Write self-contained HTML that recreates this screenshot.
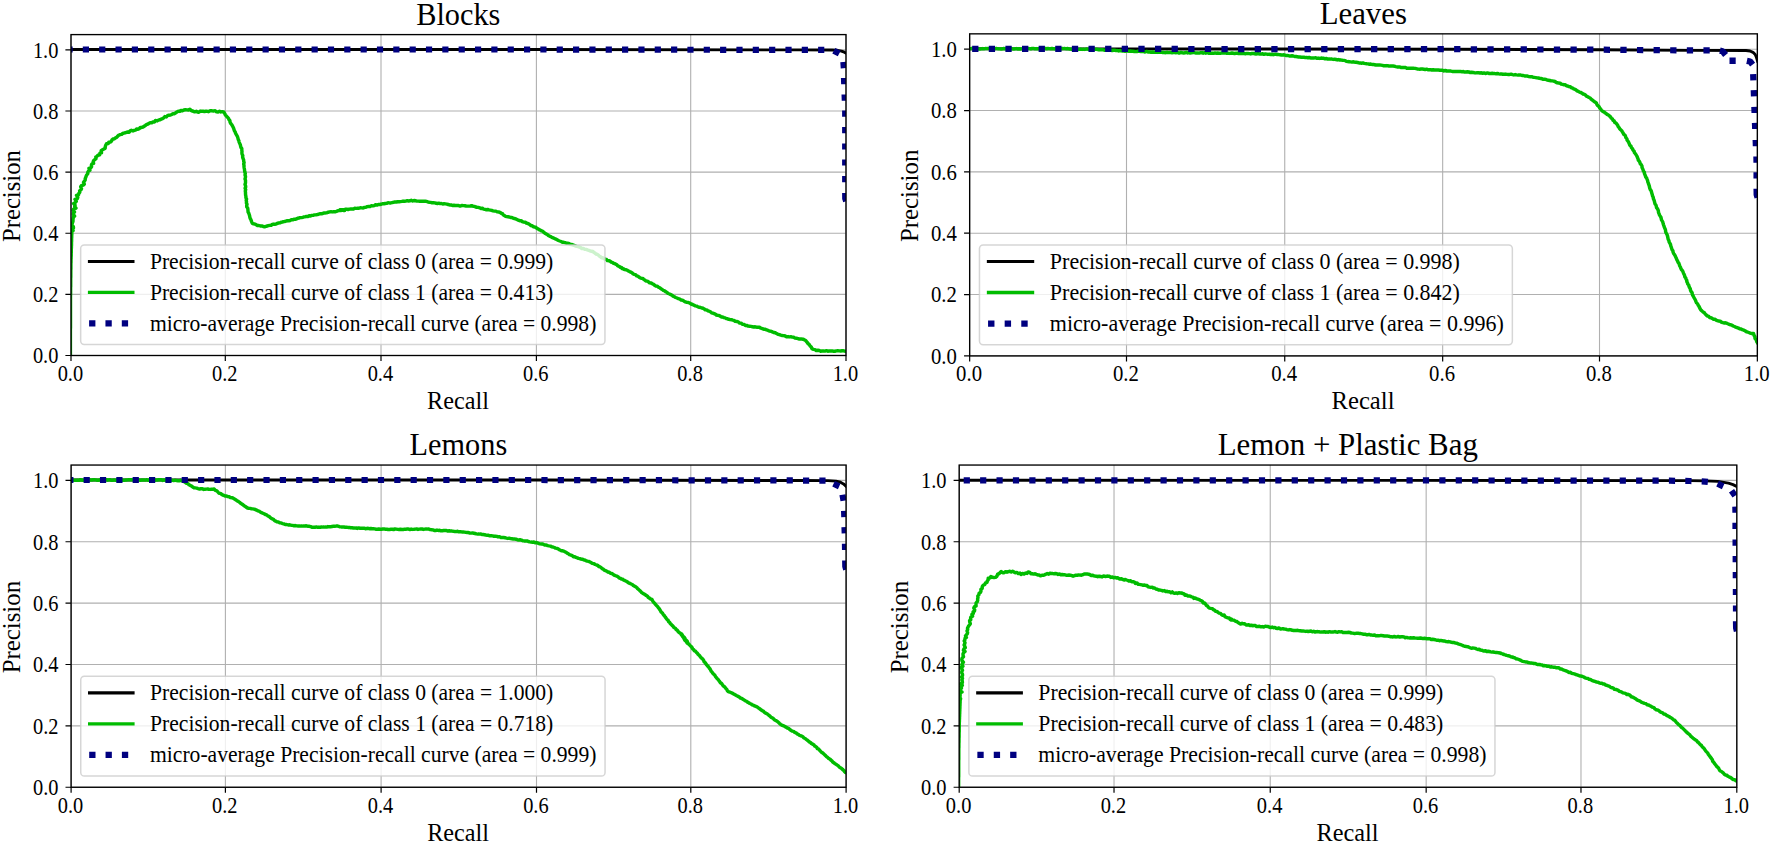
<!DOCTYPE html>
<html lang="en"><head><meta charset="utf-8"><title>Precision-recall curves</title>
<style>html,body{margin:0;padding:0;background:#fff}body{width:1772px;height:843px;overflow:hidden}svg{display:block}</style>
</head><body>
<svg width="1772" height="843" viewBox="0 0 1772 843" font-family="Liberation Serif, Times New Roman, serif">
<rect width="1772" height="843" fill="#fff"/>
<g id="plot0">
<clipPath id="c0"><rect x="71.00" y="34.60" width="775.00" height="320.90"/></clipPath>
<path d="M71.00,34.60V355.50M71.00,355.50H846.00M225.30,34.60V355.50M71.00,294.38H846.00M381.00,34.60V355.50M71.00,233.25H846.00M536.40,34.60V355.50M71.00,172.13H846.00M690.70,34.60V355.50M71.00,111.00H846.00M846.00,34.60V355.50M71.00,49.88H846.00" stroke="#b0b0b0" stroke-width="1.1" fill="none"/>
<g clip-path="url(#c0)" fill="none" stroke-linejoin="round">
<path d="M71.0,49.5 540.0,49.5 800.0,49.9 832.0,50.0 837.5,50.3 841.5,51.1 844.3,52.2 846.5,53.4" stroke="#000" stroke-width="2.90" stroke-linecap="square"/>
<path d="M70.4,355.5 70.4,354.2 70.4,352.9 70.4,351.5 70.4,350.2 70.4,348.9 70.4,347.6 70.4,346.2 70.4,344.9 70.4,343.6 70.4,342.3 70.4,341.0 70.4,339.6 70.4,338.3 70.4,337.0 70.4,335.7 70.4,334.4 70.4,333.0 70.4,331.7 70.4,330.4 70.4,329.1 70.5,327.8 70.5,326.4 70.5,325.1 70.5,323.8 70.5,322.5 70.5,321.1 70.5,319.8 70.5,318.5 70.5,317.2 70.5,315.9 70.5,314.5 70.5,313.2 70.5,311.9 70.5,310.6 70.5,309.2 70.5,307.9 70.5,306.6 70.5,305.3 70.5,304.0 70.5,302.6 70.5,301.3 70.5,300.0 70.5,298.7 70.5,297.3 70.5,296.0 70.6,294.6 70.6,293.3 70.6,291.9 70.6,290.6 70.6,289.2 70.6,287.9 70.7,286.5 70.7,285.2 70.7,283.8 70.7,282.5 70.7,281.2 70.7,279.8 70.7,278.5 70.8,277.1 70.8,275.8 70.8,274.4 70.8,273.1 70.8,271.7 70.8,270.4 70.9,269.0 70.9,267.7 70.9,266.3 70.9,265.0 70.9,263.7 71.0,262.4 71.0,261.1 71.0,259.7 71.1,258.4 71.1,257.1 71.2,255.8 71.2,254.5 71.2,253.2 71.3,251.8 71.3,250.5 71.3,249.2 71.4,247.9 71.4,246.6 71.5,245.3 71.5,243.9 71.5,242.6 71.6,241.3 71.6,240.0 71.6,238.7 71.7,237.3 71.7,236.0 71.8,234.6 71.8,233.3 70.4,231.9 73.1,230.6 71.4,229.2 73.5,228.0 73.3,226.6 71.7,225.2 72.1,223.9 72.5,222.6 73.0,221.3 73.0,219.9 73.1,218.6 73.4,217.3 74.6,216.1 73.4,214.6 73.4,213.2 74.5,212.0 73.2,210.4 73.6,209.1 76.0,208.1 74.7,206.6 75.1,205.2 73.6,203.6 75.3,202.5 76.3,201.3 75.0,199.4 77.3,198.7 77.8,197.3 76.5,195.4 78.6,194.7 78.8,193.4 79.8,192.3 79.6,190.8 80.9,189.8 81.5,188.7 80.7,186.8 81.4,185.7 83.2,185.1 84.3,184.2 83.5,182.3 84.4,181.2 85.2,180.1 85.2,178.6 85.8,177.3 86.2,176.0 86.8,174.8 87.8,173.7 87.8,172.2 88.5,171.1 89.9,170.3 89.0,168.4 90.7,167.8 91.6,166.7 91.4,165.2 91.9,163.9 93.6,163.4 93.2,161.7 93.7,160.5 94.8,159.6 96.0,158.7 95.8,156.9 97.1,156.2 98.0,155.2 99.7,154.8 99.9,153.2 101.5,152.8 101.2,150.7 102.4,149.8 103.9,149.0 105.2,148.2 105.3,146.5 105.8,145.0 106.5,143.8 108.2,143.5 108.8,142.1 110.4,142.0 111.5,141.2 112.0,139.8 113.1,139.0 114.5,138.7 115.5,137.8 116.8,137.3 117.7,136.1 118.8,135.2 120.1,134.6 121.6,134.4 122.6,133.5 123.9,133.1 125.2,132.8 126.4,132.4 127.7,132.0 129.2,132.2 130.2,130.9 131.4,130.3 133.0,130.9 134.2,130.4 135.6,130.1 136.6,129.0 138.1,129.2 139.3,128.7 140.3,127.4 141.8,127.4 143.0,127.0 144.2,126.2 145.3,125.5 146.4,124.7 147.7,124.2 148.8,123.5 150.1,122.8 151.7,122.8 152.9,121.9 154.4,121.9 155.4,120.5 157.2,120.9 158.4,120.1 159.8,119.8 161.2,119.2 162.5,118.7 163.7,117.8 164.8,116.6 166.4,116.9 167.5,115.7 168.9,115.2 170.4,115.1 171.7,114.4 172.9,113.7 174.5,113.7 175.7,112.8 176.9,112.0 178.2,111.3 179.8,111.4 181.0,110.4 182.5,110.7 183.9,110.0 185.4,109.7 186.9,109.9 188.4,110.1 189.9,109.2 191.0,110.4 192.2,111.0 193.5,111.3 194.7,111.8 196.3,111.3 197.5,112.0 198.9,112.2 200.3,111.1 201.7,111.3 203.1,111.2 204.5,111.5 205.9,111.3 207.2,111.3 208.6,111.7 209.9,110.8 211.2,110.8 212.6,110.9 213.9,110.9 215.2,110.8 216.6,111.9 218.0,112.0 219.5,111.2 220.9,111.9 222.3,111.8 223.7,112.0 224.7,113.4 225.3,114.8 226.3,116.0 227.4,117.1 228.5,118.3 229.0,119.6 229.9,120.7 230.1,122.2 230.7,123.4 231.6,124.5 232.4,125.7 233.0,126.9 233.6,128.2 234.0,129.5 234.4,130.8 235.2,131.9 235.5,133.2 236.2,134.4 236.9,135.6 237.5,136.8 237.9,138.0 238.2,139.4 238.9,140.7 239.1,142.1 239.7,143.4 240.3,144.7 240.6,146.1 240.9,147.4 241.8,148.6 241.8,150.1 242.0,151.5 241.9,152.9 242.1,154.3 242.8,155.6 242.6,157.1 243.0,158.4 243.6,159.8 243.7,161.2 244.1,162.5 243.7,164.0 244.0,165.3 244.0,166.7 244.2,168.1 244.5,169.5 244.6,170.9 244.9,172.3 245.3,173.6 245.0,175.0 245.5,176.3 245.4,177.6 245.0,179.0 245.5,180.3 245.5,181.6 245.5,183.0 245.0,184.3 245.5,185.6 245.7,187.0 245.1,188.3 245.7,189.6 245.3,191.0 245.5,192.3 245.5,193.7 245.6,195.0 245.9,196.3 245.9,197.7 246.6,199.0 246.2,200.3 246.5,201.7 246.4,203.0 247.0,204.3 246.7,205.7 246.8,207.0 247.7,208.1 247.9,209.4 248.0,210.8 248.1,212.1 248.8,213.2 249.2,214.5 249.6,215.8 249.8,217.1 250.2,218.4 250.9,219.6 251.3,220.9 251.8,222.2 252.3,223.4 253.5,223.8 254.9,224.1 256.2,224.8 257.4,225.5 258.9,225.5 260.3,226.0 261.8,225.9 263.2,226.5 264.6,226.8 265.9,226.4 267.2,226.0 268.4,225.7 269.7,225.4 271.1,225.3 272.2,224.4 273.5,224.1 274.8,224.2 276.1,224.0 277.3,223.4 278.6,223.0 279.9,222.9 281.1,222.2 282.4,222.0 283.6,221.6 285.0,221.5 286.2,221.0 287.5,220.7 288.8,220.7 290.1,220.5 291.3,219.8 292.6,219.8 293.8,219.3 295.2,219.3 296.4,218.8 297.6,218.3 298.9,218.0 300.1,217.6 301.5,217.6 302.7,217.3 304.0,216.9 305.3,216.7 306.5,216.4 307.9,216.4 309.1,215.7 310.5,216.0 311.8,215.4 313.2,215.2 314.6,214.9 316.0,214.8 317.4,214.6 318.7,214.1 320.1,213.8 321.5,213.7 322.8,213.5 324.2,212.9 325.6,212.9 327.0,212.7 328.3,212.2 329.6,211.9 331.0,211.7 332.4,211.9 333.8,211.7 335.2,211.7 336.5,211.4 337.8,210.8 339.2,210.6 340.6,210.5 341.9,210.2 343.3,210.4 344.7,210.4 343.1,209.8 341.6,210.2 340.0,209.8 341.3,209.8 342.7,209.8 344.0,209.9 345.3,209.3 346.6,209.2 348.0,209.6 349.3,209.1 350.7,209.0 352.1,209.0 353.5,209.0 354.8,208.3 356.2,208.4 357.6,208.3 359.0,208.2 360.3,207.8 361.8,207.9 363.2,208.0 364.5,207.4 365.9,207.2 367.2,206.6 368.6,206.4 370.1,206.4 371.4,205.7 372.9,205.9 374.3,205.6 375.5,204.8 377.0,205.1 378.3,204.5 379.8,204.5 381.2,204.3 382.5,203.7 383.9,203.8 385.3,203.5 386.7,203.4 388.0,202.8 389.4,202.9 390.8,202.9 392.2,202.6 393.6,202.3 394.9,201.9 396.3,202.0 397.7,201.7 399.1,201.8 400.5,201.6 401.8,201.4 403.1,201.1 404.5,201.3 405.8,201.1 407.2,200.7 408.5,201.1 409.8,200.8 411.2,200.3 412.6,201.0 414.0,200.5 415.5,200.8 416.9,201.1 418.3,201.1 419.7,201.2 421.1,201.3 422.6,201.3 424.0,201.3 425.4,201.3 426.8,201.4 428.1,202.1 429.4,202.3 430.7,202.4 432.1,202.8 433.4,202.7 434.8,202.9 436.1,203.2 437.4,203.6 438.8,203.2 440.1,203.6 441.4,203.5 442.7,204.0 444.1,203.8 445.4,203.9 446.8,204.1 448.2,204.5 449.6,204.9 451.1,204.9 452.4,205.5 453.9,205.3 455.3,205.5 456.6,205.4 458.0,205.4 459.4,205.9 460.7,205.9 462.1,205.5 463.5,205.6 464.8,205.7 466.2,206.0 467.6,206.1 468.9,206.1 470.3,206.0 471.7,205.7 473.0,206.2 474.4,206.4 475.7,207.0 477.0,207.3 478.4,207.4 479.7,207.8 481.0,208.5 482.4,208.3 483.6,209.1 485.0,209.4 486.3,209.7 487.7,209.5 489.0,209.9 490.3,210.1 491.7,210.4 493.0,210.9 494.4,211.1 495.9,211.1 497.2,211.9 498.7,212.0 500.1,212.4 501.1,213.3 502.5,213.6 503.2,214.9 504.3,215.6 505.5,216.3 506.7,216.6 508.0,216.8 509.3,217.0 510.6,217.5 511.9,217.5 513.1,218.1 514.4,218.5 515.7,218.9 517.0,219.5 518.3,220.2 519.6,220.7 521.1,220.7 522.3,221.7 523.7,222.1 525.2,222.2 526.3,223.0 527.5,223.4 528.7,223.9 529.8,224.7 530.9,225.5 532.2,225.7 533.2,226.6 534.5,227.0 535.8,227.2 536.8,228.3 538.1,228.8 539.1,229.7 540.4,230.2 541.6,230.9 542.9,231.3 543.8,232.3 544.9,233.2 546.0,233.9 547.3,234.5 548.3,235.4 549.5,236.1 550.8,236.6 551.9,237.4 553.2,237.9 554.5,238.5 555.8,239.1 557.1,239.8 558.4,240.5 559.7,241.0 561.1,241.5 562.4,242.2 563.7,242.3 565.0,242.7 566.2,243.2 567.5,243.3 568.8,243.5 570.0,244.3 571.3,244.5 572.7,244.8 574.0,245.3 575.3,245.9 576.6,246.4 578.1,246.6 579.4,247.0 580.7,247.6 581.9,248.5 583.4,248.5 584.7,249.2 586.1,249.4 587.4,249.9 588.7,250.3 590.0,250.9 591.4,251.2 592.8,251.5 593.9,252.3 595.0,253.1 596.0,254.0 597.3,254.4 598.4,255.1 599.4,256.1 600.5,256.8 601.5,257.7 602.9,257.8 604.0,258.6 605.2,259.1 606.5,259.5 607.4,260.6 608.8,260.7 610.0,261.2 611.1,262.0 612.3,262.3 613.3,263.2 614.6,263.7 615.8,264.2 616.9,264.8 617.8,265.9 619.1,266.3 620.1,267.2 621.3,267.7 622.3,268.6 623.6,268.9 624.8,269.5 623.4,269.1 622.5,268.2 621.2,267.6 619.9,267.1 621.3,267.4 622.3,268.3 623.4,269.1 624.7,269.5 626.1,269.7 627.3,270.3 628.4,270.9 629.6,271.6 630.8,272.1 632.0,272.7 633.0,273.7 634.1,274.4 635.5,274.6 636.4,275.8 637.8,276.1 638.9,277.0 640.0,277.7 641.2,278.3 642.7,278.4 643.8,279.3 644.9,280.1 645.9,281.0 647.4,281.1 648.5,281.9 649.6,282.8 651.1,283.0 652.3,283.8 653.6,284.4 654.7,285.3 655.9,286.1 657.4,286.2 658.5,287.2 659.8,287.8 660.9,288.7 662.2,289.4 663.2,290.4 664.7,290.9 665.8,291.8 667.1,292.5 668.1,293.5 669.5,294.0 670.8,294.6 672.1,295.2 673.1,296.2 674.4,296.8 675.6,297.5 677.0,298.0 678.4,298.7 679.9,299.1 681.2,300.1 682.8,300.3 684.1,301.2 685.4,301.9 686.9,302.4 688.4,302.5 689.8,303.1 691.1,304.0 692.6,304.5 693.9,305.2 695.3,305.8 696.9,306.2 698.0,306.9 699.3,307.3 700.6,307.5 701.8,308.0 703.1,308.3 704.2,308.9 705.3,309.8 706.8,309.9 707.8,310.8 709.2,311.2 710.4,311.8 711.5,312.8 712.8,313.2 714.1,313.7 715.3,314.2 716.4,315.0 717.7,315.4 719.0,315.5 720.2,316.1 721.3,317.0 722.7,317.0 723.9,317.6 725.2,317.9 726.3,318.6 727.6,318.8 728.8,319.3 730.1,319.6 731.5,319.7 732.7,320.1 734.0,320.4 735.2,321.4 736.8,321.5 738.3,321.9 739.5,323.1 741.1,323.1 742.3,324.2 744.0,324.4 745.3,325.4 746.7,325.4 748.1,326.1 749.5,326.2 750.9,326.4 752.4,326.7 753.8,327.0 755.2,326.8 756.6,327.2 758.1,327.3 759.5,327.3 760.9,328.2 762.3,328.6 763.7,329.2 765.3,329.2 766.6,329.9 768.1,330.4 769.4,331.1 771.0,331.2 772.4,331.9 773.7,332.5 775.3,332.8 776.6,333.6 777.9,334.3 779.4,334.6 780.8,335.1 782.3,335.5 783.8,335.6 785.2,336.0 786.5,336.8 788.0,336.6 789.4,336.9 790.9,336.8 792.3,337.1 793.7,337.3 795.0,338.1 796.5,338.2 797.9,338.6 799.3,339.0 801.1,338.9 802.9,339.2 804.1,339.7 805.3,340.3 806.3,341.3 807.2,342.4 808.1,343.6 809.3,344.6 810.1,346.0 811.3,347.1 811.9,348.7 813.5,349.4 815.1,349.6 816.3,350.6 817.9,350.3 819.3,350.5 820.7,351.2 822.1,350.9 823.6,351.0 825.0,351.1 826.4,350.7 827.8,351.2 829.3,350.9 830.7,351.0 832.1,350.9 833.5,351.2 834.9,351.2 836.4,350.9 837.8,350.8 839.2,350.9 840.6,351.0 842.1,350.7 843.5,350.8 844.9,351.2 846.3,351.2 847.8,351.4" stroke="#00bc00" stroke-width="3.45" stroke-linecap="square"/>
<path d="M71.0,49.5 540.0,49.5 800.0,49.9 826.0,49.9" stroke="#000080" stroke-width="6.20" stroke-dasharray="6.20 10.14" stroke-dashoffset="4.54"/>
<path d="M833.76,50.64L839.24,53.56M843.38,62.01L843.82,68.19M843.99,78.00L844.21,84.20M844.59,94.50L844.81,100.70M845.20,110.50L845.20,116.70M845.20,127.00L845.20,133.20M845.20,143.40L845.20,149.60M845.20,159.40L845.20,165.60M845.20,176.00L845.20,182.20" stroke="#000080" stroke-width="6.20"/>
<path d="M845.2,192.9L845.25,198.5L846.2,201.3" stroke="#000080" stroke-width="6.20"/>
</g>
<rect x="71.00" y="34.60" width="775.00" height="320.90" fill="none" stroke="#000" stroke-width="1.35"/>
<path d="M71.00,355.50v5.6M71.00,355.50h-5.6M225.30,355.50v5.6M71.00,294.38h-5.6M381.00,355.50v5.6M71.00,233.25h-5.6M536.40,355.50v5.6M71.00,172.13h-5.6M690.70,355.50v5.6M71.00,111.00h-5.6M846.00,355.50v5.6M71.00,49.88h-5.6" stroke="#000" stroke-width="1.2" fill="none"/>
<text transform="translate(70.40,380.70) scale(1.0000,1.0910)" font-size="20.4" text-anchor="middle">0.0</text>
<text transform="translate(58.40,363.20) scale(1.0000,1.0910)" font-size="20.4" text-anchor="end">0.0</text>
<text transform="translate(224.70,380.70) scale(1.0000,1.0910)" font-size="20.4" text-anchor="middle">0.2</text>
<text transform="translate(58.40,302.08) scale(1.0000,1.0910)" font-size="20.4" text-anchor="end">0.2</text>
<text transform="translate(380.40,380.70) scale(1.0000,1.0910)" font-size="20.4" text-anchor="middle">0.4</text>
<text transform="translate(58.40,240.95) scale(1.0000,1.0910)" font-size="20.4" text-anchor="end">0.4</text>
<text transform="translate(535.80,380.70) scale(1.0000,1.0910)" font-size="20.4" text-anchor="middle">0.6</text>
<text transform="translate(58.40,179.83) scale(1.0000,1.0910)" font-size="20.4" text-anchor="end">0.6</text>
<text transform="translate(690.10,380.70) scale(1.0000,1.0910)" font-size="20.4" text-anchor="middle">0.8</text>
<text transform="translate(58.40,118.70) scale(1.0000,1.0910)" font-size="20.4" text-anchor="end">0.8</text>
<text transform="translate(845.40,380.70) scale(1.0000,1.0910)" font-size="20.4" text-anchor="middle">1.0</text>
<text transform="translate(58.40,57.58) scale(1.0000,1.0910)" font-size="20.4" text-anchor="end">1.0</text>
<text transform="translate(458.00,408.70) scale(1.0000,1.0700)" font-size="24.25" text-anchor="middle">Recall</text>
<text transform="translate(19.70,196.05) rotate(-90) scale(1.0200,1.0400)" font-size="24.25" text-anchor="middle">Precision</text>
<text transform="translate(458.30,24.60) scale(1.0000,1.0650)" font-size="30.3" text-anchor="middle">Blocks</text>
<rect x="80.65" y="244.90" width="524.30" height="99.50" rx="3.60" fill="#fff" fill-opacity="0.8" stroke="#ccc" stroke-opacity="0.8" stroke-width="1.5"/>
<path d="M87.90,261.50H134.50" stroke="#000" stroke-width="3.10"/>
<path d="M87.90,292.35H134.50" stroke="#00bc00" stroke-width="3.40"/>
<path d="M89.10,323.30H134.50" stroke="#000080" stroke-width="6.20" stroke-dasharray="6.30 10.05"/>
<text transform="translate(149.90,268.90) scale(1.0000,1.0700)" font-size="21.62">Precision-recall curve of class 0 (area = 0.999)</text>
<text transform="translate(149.90,299.75) scale(1.0000,1.0700)" font-size="21.62">Precision-recall curve of class 1 (area = 0.413)</text>
<text transform="translate(149.90,330.70) scale(1.0000,1.0700)" font-size="21.62">micro-average Precision-recall curve (area = 0.998)</text>
</g>
<g id="plot1">
<clipPath id="c1"><rect x="969.66" y="33.85" width="787.69" height="322.05"/></clipPath>
<path d="M969.66,33.85V355.90M969.66,355.90H1757.35M1126.50,33.85V355.90M969.66,294.56H1757.35M1284.74,33.85V355.90M969.66,233.21H1757.35M1442.67,33.85V355.90M969.66,171.87H1757.35M1599.51,33.85V355.90M969.66,110.53H1757.35M1757.35,33.85V355.90M969.66,49.19H1757.35" stroke="#b0b0b0" stroke-width="1.1" fill="none"/>
<g clip-path="url(#c1)" fill="none" stroke-linejoin="round">
<path d="M969.7,48.8 1200.0,49.0 1450.0,49.2 1600.0,49.7 1690.0,50.4 1746.0,50.5 1750.0,51.0 1753.0,52.3 1755.2,54.5 1756.5,57.5 1757.6,61.2" stroke="#000" stroke-width="2.91" stroke-linecap="square"/>
<path d="M969.7,48.8 971.0,48.6 972.3,48.6 973.6,48.7 974.9,48.6 976.2,48.5 977.5,48.7 978.8,49.0 980.1,49.0 981.4,48.9 982.7,48.6 984.0,48.8 985.3,48.6 986.6,48.6 987.9,48.5 989.2,48.6 990.5,49.0 991.8,49.0 993.1,49.0 994.4,48.9 995.7,48.6 997.0,48.6 998.3,48.8 999.6,48.9 1000.9,49.0 1002.2,49.0 1003.5,48.5 1004.9,48.8 1006.2,48.9 1007.5,48.7 1008.8,48.6 1010.1,48.7 1011.4,48.5 1012.7,49.0 1014.0,49.0 1015.3,48.8 1016.6,48.6 1017.9,49.0 1019.2,48.8 1020.5,49.0 1021.8,48.9 1023.1,48.7 1024.4,48.7 1025.7,48.8 1027.0,48.7 1028.3,48.5 1029.6,48.6 1030.9,48.9 1032.2,48.4 1033.5,48.4 1034.8,48.8 1036.1,48.6 1037.4,48.7 1038.7,48.7 1040.0,48.6 1041.3,49.0 1042.7,48.5 1044.0,48.6 1045.3,48.5 1046.7,48.8 1048.0,48.5 1049.3,48.6 1050.7,48.8 1052.0,48.5 1053.3,48.7 1054.7,48.9 1056.0,48.4 1057.3,48.4 1058.7,48.5 1060.0,48.8 1061.3,48.7 1062.6,48.5 1063.9,48.6 1065.2,48.6 1066.5,48.8 1067.8,48.5 1069.1,49.0 1070.4,49.1 1071.7,49.2 1073.0,49.1 1074.3,49.3 1075.6,48.7 1076.9,48.9 1078.2,49.4 1079.5,49.3 1080.8,49.1 1082.1,49.4 1083.4,49.3 1084.7,49.4 1086.0,49.1 1087.4,49.1 1088.7,49.3 1090.0,49.2 1091.3,49.3 1092.5,49.7 1093.9,49.4 1095.2,49.2 1096.5,49.3 1097.8,49.5 1099.1,49.9 1100.4,49.7 1101.7,49.7 1103.0,49.7 1104.3,50.3 1105.6,50.0 1106.9,49.9 1108.2,49.9 1109.5,50.0 1110.8,50.1 1112.1,50.5 1113.4,50.2 1114.7,50.2 1116.0,50.6 1117.3,50.5 1118.6,51.0 1119.9,50.5 1121.2,50.9 1122.5,51.1 1123.8,50.9 1125.1,51.3 1126.4,51.1 1127.7,51.0 1129.0,51.2 1130.3,51.0 1131.6,51.3 1132.9,51.2 1134.2,51.6 1135.5,51.6 1136.8,51.5 1138.1,51.2 1139.4,51.4 1140.7,51.5 1142.0,51.5 1143.3,51.5 1144.6,52.0 1146.0,51.6 1147.3,51.6 1148.5,52.1 1149.9,52.0 1151.1,52.3 1152.5,52.0 1153.8,52.3 1155.1,52.2 1156.4,52.3 1157.7,52.4 1159.0,52.3 1160.3,52.1 1161.6,52.2 1162.9,52.6 1164.2,52.6 1165.5,52.7 1166.8,52.3 1168.1,52.5 1169.4,52.6 1170.7,52.6 1172.0,52.7 1173.3,52.5 1174.6,52.6 1175.9,52.7 1177.2,52.4 1178.5,52.9 1179.8,52.9 1181.1,52.4 1182.4,52.9 1183.7,53.0 1185.0,52.8 1186.3,52.4 1187.6,53.0 1188.9,52.5 1190.2,53.1 1191.5,52.9 1192.8,52.6 1194.1,52.6 1195.4,52.9 1196.7,52.9 1198.0,53.0 1199.3,53.1 1200.6,52.7 1201.9,52.6 1203.2,53.2 1204.6,52.7 1205.8,53.2 1207.2,52.7 1208.5,53.2 1209.8,53.2 1211.1,53.2 1212.4,53.1 1213.7,53.3 1215.0,52.9 1216.3,53.2 1217.6,53.0 1218.9,53.3 1220.2,53.3 1221.5,53.1 1222.8,53.1 1224.1,52.9 1225.4,52.9 1226.7,53.2 1228.0,53.2 1229.3,53.4 1230.6,53.3 1232.0,53.0 1233.3,53.2 1234.6,53.5 1236.0,53.3 1237.3,53.1 1238.6,53.6 1240.0,53.6 1241.3,53.2 1242.7,53.5 1244.0,53.4 1245.3,53.7 1246.7,53.4 1248.0,53.4 1249.3,53.6 1250.7,53.9 1252.0,53.4 1253.4,53.4 1254.7,53.8 1256.0,54.0 1257.3,53.8 1258.7,53.8 1260.0,54.1 1261.3,54.1 1262.7,53.8 1264.0,54.3 1265.4,53.9 1266.7,54.1 1268.0,54.4 1269.3,54.2 1270.7,54.5 1272.0,54.2 1273.3,54.7 1274.7,54.3 1276.0,54.3 1277.3,54.6 1278.7,54.6 1280.0,54.7 1281.3,55.1 1282.6,55.1 1284.0,54.8 1285.3,55.2 1286.6,55.5 1288.0,55.6 1289.3,55.9 1290.6,55.9 1292.0,55.8 1293.3,56.0 1294.6,56.5 1296.0,56.4 1297.3,56.8 1298.6,57.0 1299.9,57.0 1301.3,57.2 1302.6,57.3 1303.9,57.2 1305.2,57.6 1306.6,57.4 1307.9,57.8 1309.2,57.5 1310.5,57.9 1311.9,57.9 1313.2,57.9 1314.5,57.9 1315.8,57.8 1317.1,58.3 1318.5,58.1 1319.8,58.4 1321.1,58.1 1322.5,58.2 1323.8,58.3 1325.1,58.8 1326.5,58.5 1327.8,59.1 1329.2,58.9 1330.5,59.1 1331.9,59.1 1333.3,59.4 1334.6,59.2 1336.0,59.5 1337.3,59.9 1338.7,59.6 1340.0,60.1 1341.3,60.1 1342.6,60.3 1343.9,60.4 1345.2,60.6 1346.4,61.4 1347.7,61.6 1349.1,61.7 1350.5,61.9 1351.9,62.1 1353.4,61.8 1354.8,62.2 1356.2,62.3 1357.6,62.5 1359.0,62.9 1360.3,62.9 1361.6,63.2 1362.9,62.9 1364.2,63.4 1365.5,63.6 1366.8,63.8 1368.1,63.9 1369.4,64.2 1370.7,64.0 1372.0,64.5 1373.3,64.4 1374.6,64.7 1375.9,65.0 1377.2,65.0 1378.5,64.9 1379.8,65.0 1381.1,65.1 1382.4,65.4 1383.7,65.7 1385.0,65.8 1386.4,65.6 1387.7,65.7 1389.0,66.1 1390.3,65.9 1391.6,66.0 1392.9,65.9 1394.3,66.2 1395.7,66.6 1397.1,66.9 1398.5,67.0 1400.0,67.0 1401.3,67.6 1402.8,67.5 1404.2,67.4 1405.5,67.5 1406.8,68.2 1408.1,68.3 1409.4,68.3 1410.7,68.3 1412.0,68.2 1413.3,68.2 1414.6,68.4 1415.9,68.5 1417.2,69.0 1418.5,69.1 1419.8,69.2 1421.1,68.9 1422.4,69.0 1423.8,69.2 1425.1,69.6 1426.5,69.2 1427.8,69.7 1429.1,69.7 1430.5,69.7 1431.8,70.1 1433.1,69.7 1434.5,70.0 1435.8,69.9 1437.2,69.9 1438.5,70.0 1439.8,70.2 1441.2,70.2 1442.5,70.2 1443.9,70.9 1445.3,70.5 1446.7,71.0 1448.1,71.0 1449.5,71.1 1450.8,71.1 1452.2,71.4 1453.6,71.4 1455.0,71.4 1456.4,71.4 1457.8,71.5 1459.2,71.6 1460.6,71.6 1462.0,71.7 1463.4,71.6 1464.7,72.1 1466.1,72.0 1467.5,71.8 1468.9,72.0 1470.3,72.5 1471.7,72.3 1473.1,72.4 1474.4,72.7 1475.8,72.9 1477.2,72.7 1478.6,72.8 1480.0,73.0 1481.4,72.8 1482.7,73.3 1484.0,72.9 1485.4,73.5 1486.7,73.1 1488.1,73.1 1489.4,73.6 1490.7,73.6 1492.1,73.3 1493.4,73.6 1494.8,73.6 1496.1,73.8 1497.5,73.5 1498.8,73.9 1500.1,74.1 1501.5,74.0 1502.9,74.2 1504.2,74.3 1505.6,74.1 1507.0,74.4 1508.3,74.5 1509.7,74.4 1511.1,74.2 1512.5,74.6 1513.8,74.9 1515.2,74.6 1516.6,74.9 1517.9,75.1 1519.3,75.1 1520.7,75.0 1522.0,75.5 1523.4,75.5 1524.7,76.0 1526.1,76.1 1527.5,76.1 1528.9,76.6 1530.2,76.7 1531.6,76.7 1533.0,77.2 1534.3,77.4 1535.7,77.6 1537.0,77.9 1538.3,78.0 1539.5,78.3 1540.8,78.5 1542.1,78.8 1543.3,79.3 1544.6,79.2 1546.0,79.4 1547.1,80.0 1548.4,80.2 1549.7,80.5 1551.0,80.8 1552.3,80.9 1553.6,81.1 1554.9,81.5 1556.1,82.3 1557.3,82.8 1558.7,83.1 1560.1,83.2 1561.2,84.1 1562.5,84.4 1563.9,84.7 1565.3,84.8 1566.4,85.7 1567.7,86.0 1568.9,86.6 1570.3,86.8 1571.3,87.8 1572.6,88.0 1573.7,88.9 1575.0,89.3 1576.1,90.0 1577.1,90.9 1578.4,91.4 1579.5,92.1 1580.9,92.5 1582.0,93.2 1583.1,94.0 1584.5,94.4 1585.6,95.2 1586.6,96.2 1587.8,96.8 1589.0,97.5 1590.2,98.0 1591.1,99.1 1592.1,99.9 1593.1,100.7 1594.2,101.5 1595.3,102.2 1596.4,102.9 1596.9,104.5 1597.8,105.7 1599.0,106.6 1599.7,108.0 1600.7,109.1 1601.5,110.3 1602.6,111.3 1603.9,111.8 1604.9,112.8 1606.1,113.5 1607.1,114.4 1608.4,115.0 1609.4,115.9 1610.5,116.8 1611.2,118.1 1612.4,118.9 1613.0,120.2 1614.2,121.0 1614.7,122.4 1616.0,123.1 1616.9,124.2 1617.7,125.3 1618.2,126.6 1619.1,127.6 1619.8,128.8 1620.7,129.8 1621.7,130.7 1622.4,131.9 1623.1,133.0 1623.7,134.3 1624.9,135.1 1625.5,136.3 1625.9,137.7 1626.9,138.8 1627.1,140.2 1628.1,141.3 1628.7,142.6 1629.3,143.8 1629.8,145.1 1631.0,146.1 1631.4,147.6 1632.5,148.7 1633.0,150.1 1634.1,151.2 1634.5,152.7 1635.5,153.8 1636.2,155.0 1636.9,156.2 1637.4,157.5 1638.0,158.7 1638.3,160.1 1639.2,161.2 1639.9,162.4 1640.3,163.8 1641.3,164.8 1642.0,166.0 1642.0,167.4 1642.5,168.6 1643.1,169.8 1643.4,171.1 1644.4,172.1 1644.4,173.5 1644.9,174.6 1645.4,175.9 1645.8,177.1 1646.7,178.2 1647.1,179.4 1647.6,180.6 1647.8,181.9 1648.3,183.1 1648.7,184.4 1649.2,185.7 1649.5,187.0 1649.8,188.4 1650.3,189.6 1651.2,190.8 1651.5,192.1 1651.9,193.4 1652.3,194.8 1652.6,196.1 1653.2,197.3 1653.4,198.7 1654.0,200.0 1654.4,201.3 1654.7,202.6 1655.0,203.9 1655.9,205.0 1656.3,206.2 1656.5,207.6 1657.4,208.7 1658.0,209.8 1658.4,211.1 1658.5,212.5 1659.1,213.7 1659.4,214.9 1660.2,216.1 1660.9,217.2 1661.2,218.5 1661.5,219.8 1662.2,221.0 1662.8,222.1 1663.1,223.5 1663.5,224.8 1664.0,226.1 1664.4,227.4 1665.0,228.7 1665.5,230.0 1665.6,231.4 1666.0,232.7 1666.7,234.0 1667.3,235.2 1667.6,236.5 1667.9,237.9 1668.2,239.3 1668.9,240.5 1669.1,241.9 1669.8,243.1 1670.5,244.3 1670.7,245.7 1671.2,247.0 1671.6,248.3 1672.0,249.6 1672.9,250.8 1673.1,252.2 1673.6,253.5 1674.5,254.6 1675.2,255.8 1675.7,257.0 1676.3,258.3 1676.8,259.6 1677.5,260.8 1677.9,262.1 1678.8,263.2 1679.3,264.5 1679.7,265.8 1680.4,267.0 1680.8,268.3 1681.4,269.5 1682.4,270.6 1683.0,271.8 1683.5,273.1 1684.0,274.3 1684.6,275.5 1684.8,276.8 1685.7,277.9 1686.1,279.1 1686.8,280.3 1686.8,281.6 1687.5,282.8 1687.8,284.1 1688.8,285.1 1689.0,286.4 1689.5,287.6 1690.3,288.7 1690.5,290.2 1691.1,291.5 1692.1,292.6 1692.2,294.1 1692.8,295.4 1693.5,296.6 1694.1,297.9 1694.9,299.1 1695.5,300.4 1696.0,301.7 1696.6,302.9 1697.6,303.9 1698.2,305.2 1699.0,306.3 1699.5,307.6 1700.1,308.8 1700.9,310.0 1701.9,310.9 1702.9,311.9 1704.2,312.6 1705.1,313.8 1706.1,314.9 1707.2,315.8 1708.7,316.4 1709.6,317.5 1711.0,317.8 1712.2,318.4 1713.5,319.2 1714.9,319.3 1716.1,320.1 1717.4,320.7 1718.7,321.1 1720.2,321.2 1721.3,322.1 1722.6,322.5 1723.9,323.0 1725.4,322.8 1726.7,323.2 1727.9,323.8 1729.2,324.4 1730.5,324.8 1731.9,325.1 1733.1,326.0 1734.4,326.5 1735.7,327.1 1737.1,327.6 1738.4,328.1 1739.6,328.8 1741.1,329.0 1742.3,329.7 1743.7,330.1 1745.0,330.7 1746.1,331.6 1747.5,332.0 1748.8,332.5 1750.2,333.1 1751.8,333.5 1753.5,333.5 1754.0,335.3 1754.9,336.7 1755.0,338.5 1756.3,339.8 1756.7,341.5 1757.6,343.0" stroke="#00bc00" stroke-width="3.46" stroke-linecap="square"/>
<path d="M969.7,48.8 1200.0,49.0 1450.0,49.2 1600.0,49.7 1690.0,50.4 1714.0,50.4" stroke="#000080" stroke-width="6.22" stroke-dasharray="6.30 10.32" stroke-dashoffset="14.17"/>
<path d="M1729.50,60.75L1735.70,60.75M1753.19,74.10L1753.41,80.30M1753.79,90.10L1754.01,96.30M1754.39,106.80L1754.61,113.00M1754.99,122.80L1755.21,129.00M1755.69,140.00L1755.91,146.20M1756.45,156.50L1756.55,162.70M1756.60,172.30L1756.60,178.50" stroke="#000080" stroke-width="6.30"/>
<path d="M1756.6,188.8L1756.7,194.5L1757.6,197.6M1719.9,50.6L1722.6,51.2L1725.6,54.9M1746.9,60.8L1750.2,61.5L1752.6,64.6" stroke="#000080" stroke-width="6.30"/>
</g>
<rect x="969.66" y="33.85" width="787.69" height="322.05" fill="none" stroke="#000" stroke-width="1.35"/>
<path d="M969.66,355.90v5.6M969.66,355.90h-5.6M1126.50,355.90v5.6M969.66,294.56h-5.6M1284.74,355.90v5.6M969.66,233.21h-5.6M1442.67,355.90v5.6M969.66,171.87h-5.6M1599.51,355.90v5.6M969.66,110.53h-5.6M1757.35,355.90v5.6M969.66,49.19h-5.6" stroke="#000" stroke-width="1.2" fill="none"/>
<text transform="translate(969.06,381.19) scale(1.0164,1.0949)" font-size="20.4" text-anchor="middle">0.0</text>
<text transform="translate(956.85,363.63) scale(1.0164,1.0949)" font-size="20.4" text-anchor="end">0.0</text>
<text transform="translate(1125.90,381.19) scale(1.0164,1.0949)" font-size="20.4" text-anchor="middle">0.2</text>
<text transform="translate(956.85,302.28) scale(1.0164,1.0949)" font-size="20.4" text-anchor="end">0.2</text>
<text transform="translate(1284.14,381.19) scale(1.0164,1.0949)" font-size="20.4" text-anchor="middle">0.4</text>
<text transform="translate(956.85,240.94) scale(1.0164,1.0949)" font-size="20.4" text-anchor="end">0.4</text>
<text transform="translate(1442.07,381.19) scale(1.0164,1.0949)" font-size="20.4" text-anchor="middle">0.6</text>
<text transform="translate(956.85,179.60) scale(1.0164,1.0949)" font-size="20.4" text-anchor="end">0.6</text>
<text transform="translate(1598.91,381.19) scale(1.0164,1.0949)" font-size="20.4" text-anchor="middle">0.8</text>
<text transform="translate(956.85,118.26) scale(1.0164,1.0949)" font-size="20.4" text-anchor="end">0.8</text>
<text transform="translate(1756.75,381.19) scale(1.0164,1.0949)" font-size="20.4" text-anchor="middle">1.0</text>
<text transform="translate(956.85,56.91) scale(1.0164,1.0949)" font-size="20.4" text-anchor="end">1.0</text>
<text transform="translate(1363.00,409.29) scale(1.0164,1.0738)" font-size="24.25" text-anchor="middle">Recall</text>
<text transform="translate(917.52,195.88) rotate(-90) scale(1.0237,1.0570)" font-size="24.25" text-anchor="middle">Precision</text>
<text transform="translate(1363.30,23.81) scale(1.0164,1.0688)" font-size="30.3" text-anchor="middle">Leaves</text>
<rect x="979.47" y="244.90" width="532.88" height="99.86" rx="3.66" fill="#fff" fill-opacity="0.8" stroke="#ccc" stroke-opacity="0.8" stroke-width="1.5"/>
<path d="M986.84,261.56H1034.20" stroke="#000" stroke-width="3.11"/>
<path d="M986.84,292.52H1034.20" stroke="#00bc00" stroke-width="3.41"/>
<path d="M988.06,323.58H1034.20" stroke="#000080" stroke-width="6.22" stroke-dasharray="6.40 10.21"/>
<text transform="translate(1049.85,268.99) scale(1.0164,1.0738)" font-size="21.62">Precision-recall curve of class 0 (area = 0.998)</text>
<text transform="translate(1049.85,299.95) scale(1.0164,1.0738)" font-size="21.62">Precision-recall curve of class 1 (area = 0.842)</text>
<text transform="translate(1049.85,331.01) scale(1.0164,1.0738)" font-size="21.62">micro-average Precision-recall curve (area = 0.996)</text>
</g>
<g id="plot2">
<clipPath id="c2"><rect x="71.10" y="465.05" width="775.00" height="322.21"/></clipPath>
<path d="M71.10,465.05V787.26M71.10,787.26H846.10M225.40,465.05V787.26M71.10,725.89H846.10M381.10,465.05V787.26M71.10,664.51H846.10M536.50,465.05V787.26M71.10,603.14H846.10M690.80,465.05V787.26M71.10,541.77H846.10M846.10,465.05V787.26M71.10,480.39H846.10" stroke="#b0b0b0" stroke-width="1.1" fill="none"/>
<g clip-path="url(#c2)" fill="none" stroke-linejoin="round">
<path d="M71.1,480.0 540.0,480.0 800.0,480.5 828.0,480.6 836.0,481.1 840.5,482.2 843.5,483.9 846.5,486.6" stroke="#000" stroke-width="2.91" stroke-linecap="square"/>
<path d="M71.1,480.0 72.4,480.1 73.7,480.1 75.0,480.2 76.3,480.3 77.6,480.1 78.9,480.3 80.3,479.7 81.6,480.0 82.9,480.3 84.2,480.1 85.5,480.2 86.8,479.8 88.1,480.0 89.4,479.8 90.7,480.0 92.0,480.0 93.3,479.7 94.6,479.8 95.9,479.9 97.2,480.2 98.6,480.2 99.9,479.8 101.2,480.2 102.5,479.8 103.8,480.1 105.1,479.8 106.4,479.7 107.7,480.2 109.0,479.8 110.3,479.8 111.6,480.3 112.9,480.2 114.2,479.9 115.5,480.3 116.9,480.0 118.2,480.1 119.5,479.8 120.8,480.3 122.1,480.1 123.4,480.3 124.7,480.2 126.0,479.9 127.3,479.9 128.6,479.8 129.9,479.8 131.2,479.7 132.5,479.9 133.9,480.1 135.2,479.7 136.5,480.1 137.8,479.9 139.1,479.9 140.4,480.2 141.7,480.0 143.0,479.9 144.3,480.0 145.6,480.1 146.9,479.7 148.2,480.3 149.5,479.7 150.8,480.1 152.2,480.2 153.5,479.7 154.8,480.2 156.1,479.9 157.4,480.0 158.7,479.7 160.0,479.7 161.4,479.8 162.7,480.4 164.1,479.9 165.5,480.3 166.9,480.5 168.2,480.5 169.6,480.2 171.0,480.2 172.4,480.4 173.7,480.6 175.1,480.2 176.5,480.6 177.9,480.7 179.3,480.8 180.6,480.3 182.0,480.9 183.3,481.0 184.4,481.8 185.5,482.5 186.6,483.3 188.0,483.6 189.0,484.8 190.3,485.4 191.6,486.1 192.7,487.0 194.0,487.8 195.3,487.9 196.7,488.1 198.1,488.6 199.5,489.0 200.9,488.7 202.4,488.8 203.6,489.4 205.0,489.2 206.3,489.1 207.6,489.0 208.9,489.3 210.2,489.4 211.5,489.2 212.9,489.2 214.2,489.0 215.3,490.4 216.9,490.9 218.0,492.1 219.1,493.2 220.5,493.4 221.6,494.3 222.7,495.0 224.0,495.4 225.1,496.0 226.6,496.0 227.8,496.6 229.2,496.8 230.4,497.6 231.9,497.7 233.2,498.2 234.4,498.9 235.6,499.7 236.9,500.7 238.3,501.4 239.6,502.3 240.6,503.3 241.8,504.0 243.0,504.8 244.1,505.7 245.3,506.4 246.4,507.3 247.5,508.0 248.8,508.3 250.1,508.4 251.4,508.7 252.7,508.9 254.0,509.1 255.3,509.5 256.5,510.1 257.7,510.8 259.1,511.1 260.2,512.0 261.5,512.6 262.8,513.2 264.1,513.8 265.3,514.5 266.7,514.9 267.7,515.9 269.0,516.4 270.0,517.3 271.1,518.2 272.2,518.9 273.5,519.4 274.4,520.5 275.6,521.1 276.8,521.8 278.3,521.9 279.6,522.7 281.1,522.9 282.4,523.6 283.9,523.9 285.2,524.5 286.7,524.6 288.2,524.9 289.6,524.8 291.1,525.2 292.5,525.4 294.0,525.7 295.4,525.6 296.8,525.9 298.1,526.0 299.5,525.9 300.8,526.1 302.2,526.1 303.6,525.9 304.9,525.9 306.3,525.8 307.6,526.2 309.0,526.3 310.7,526.6 312.3,527.3 313.7,527.3 315.0,527.3 316.3,526.9 317.6,527.3 318.9,527.1 320.2,527.2 321.5,527.0 322.8,527.1 324.1,527.1 325.4,527.0 326.7,527.1 328.0,526.6 329.3,526.7 330.6,526.7 332.0,526.6 333.3,526.2 334.7,526.3 336.1,526.1 337.8,526.1 339.5,526.7 341.2,526.9 342.5,526.9 343.9,527.0 345.2,527.2 346.6,527.3 347.9,527.4 349.3,527.4 350.6,527.7 352.0,527.8 353.3,528.0 354.7,528.1 356.0,528.0 357.3,528.4 358.7,527.9 360.0,528.2 361.4,528.2 362.7,528.3 364.0,528.2 365.4,528.7 366.7,528.5 368.1,528.3 369.4,528.7 370.7,528.5 372.1,528.8 373.4,528.7 374.7,528.9 376.1,529.2 377.4,529.2 378.7,529.0 380.1,529.3 381.4,529.2 382.8,529.0 384.1,528.9 385.5,529.2 386.8,529.2 388.2,529.5 389.6,529.5 390.9,529.3 392.3,529.2 393.6,529.5 395.0,529.0 396.3,529.1 397.7,529.4 399.0,529.5 400.4,529.2 401.7,529.5 403.1,529.6 404.5,529.2 405.8,529.2 407.2,529.1 408.5,529.1 409.9,529.5 411.2,529.1 412.6,529.4 413.9,529.3 415.3,529.1 416.6,528.9 418.0,529.4 419.4,529.1 420.7,529.0 422.1,529.0 423.4,529.4 424.8,529.1 426.1,528.9 427.5,529.1 428.9,529.1 430.2,529.6 431.5,529.7 432.9,529.9 434.2,530.4 435.6,530.5 437.0,530.1 438.3,530.4 439.7,530.3 441.0,530.8 442.4,530.7 443.7,530.5 445.1,530.5 446.4,530.5 447.8,531.1 449.2,530.8 450.6,531.1 452.0,531.1 453.4,531.3 454.8,531.4 456.1,531.6 457.6,531.3 458.9,531.8 460.4,531.7 461.7,531.9 463.1,531.9 464.5,532.1 465.8,532.4 467.1,532.5 468.5,532.6 469.8,533.0 471.1,533.1 472.5,532.9 473.8,533.2 475.1,533.5 476.4,533.9 477.8,534.1 479.1,534.1 480.5,533.9 481.8,534.5 483.2,534.5 484.5,534.7 485.8,535.0 487.2,535.2 488.6,535.3 489.9,535.8 491.3,535.7 492.7,535.9 494.0,536.3 495.5,536.2 496.8,536.4 498.1,536.9 499.6,536.7 500.9,537.4 502.3,537.5 503.7,537.5 505.0,537.7 506.4,538.1 507.7,538.4 509.2,538.2 510.5,538.6 511.9,538.8 513.2,539.0 514.6,539.1 516.0,539.2 517.3,539.7 518.7,540.0 520.1,539.8 521.5,540.1 522.8,540.7 524.2,540.9 525.6,541.0 527.0,540.9 528.3,541.5 529.7,541.9 531.1,542.1 532.5,542.2 533.9,542.0 535.2,542.7 536.6,542.5 538.0,543.1 539.3,543.7 540.7,543.9 542.2,543.9 543.5,544.4 544.8,545.1 546.3,545.0 547.6,545.6 549.0,545.9 550.4,546.1 551.6,546.8 553.0,547.0 554.3,547.5 555.5,548.1 556.9,548.4 558.2,548.9 559.4,549.7 560.6,550.3 561.9,550.8 563.3,550.9 564.6,551.6 565.9,552.2 567.1,553.1 568.4,553.7 569.5,554.7 570.9,555.1 572.3,555.6 573.4,556.7 574.8,556.8 575.9,557.4 577.2,557.8 578.4,558.4 579.7,558.6 580.9,559.0 582.2,559.2 583.4,559.7 584.7,560.0 585.9,560.6 587.2,561.1 588.7,561.4 590.0,562.0 591.3,562.7 592.5,563.4 594.0,563.7 595.2,564.5 596.5,565.0 597.8,565.4 598.8,566.5 600.1,566.9 601.2,567.6 602.1,568.6 603.3,569.1 604.2,570.1 605.5,570.6 606.8,571.2 607.9,572.0 609.3,572.3 610.4,573.3 611.8,573.5 613.0,574.2 614.1,575.2 615.4,575.7 616.8,576.1 618.0,576.7 619.0,577.8 620.3,578.3 621.4,579.0 622.8,579.3 623.8,580.2 625.1,580.7 626.3,581.3 627.5,582.0 628.6,582.8 629.8,583.3 631.0,584.0 632.3,584.5 633.3,585.5 634.5,586.1 635.6,586.8 636.8,587.6 637.6,588.7 638.8,589.6 639.8,590.6 640.8,591.5 641.7,592.6 642.9,593.4 644.1,594.0 645.2,594.7 646.3,595.6 647.5,596.3 648.3,597.5 649.5,598.1 650.5,599.0 651.9,599.4 652.6,600.7 653.3,602.0 654.4,603.0 655.3,604.1 656.2,605.2 657.3,606.2 658.1,607.3 659.0,608.4 659.7,609.6 660.5,610.7 661.0,611.9 662.2,612.8 662.9,613.9 663.7,615.0 664.6,616.0 665.3,617.2 666.1,618.2 666.9,619.3 668.0,620.1 668.5,621.5 669.6,622.3 670.2,623.5 671.2,624.4 672.1,625.4 673.1,626.3 673.9,627.5 675.3,628.2 676.1,629.5 677.3,630.3 678.1,631.5 679.1,632.5 680.4,633.3 681.1,634.4 682.0,635.5 682.7,636.6 683.6,637.7 684.2,638.9 684.7,640.1 685.8,641.0 686.6,642.1 687.3,643.2 686.5,642.1 686.0,640.8 685.2,639.7 684.2,638.7 683.5,637.5 682.9,636.2 682.3,634.9 681.4,633.8 682.2,634.9 682.7,636.2 684.0,636.9 684.8,638.0 685.2,639.3 686.2,640.2 687.2,641.2 687.7,642.4 688.3,643.7 689.3,644.6 690.2,645.6 691.1,646.5 692.0,647.5 692.6,648.8 693.7,649.6 694.4,650.8 695.7,651.4 696.5,652.5 697.5,653.4 698.2,654.5 699.3,655.4 700.1,656.4 700.9,657.5 701.9,658.4 702.9,659.3 703.7,660.4 704.1,661.8 705.2,662.6 705.9,663.8 706.7,664.8 707.5,665.9 708.5,666.8 709.2,668.0 710.1,669.0 710.7,670.2 711.3,671.4 712.2,672.3 712.9,673.5 714.0,674.3 714.9,675.3 715.5,676.6 716.4,677.6 717.2,678.6 718.1,679.5 718.9,680.6 719.7,681.6 720.4,682.7 721.6,683.5 722.3,684.5 723.0,685.7 724.2,686.4 725.1,687.4 725.8,688.4 726.8,689.4 727.3,690.6 728.2,691.6 729.6,692.0 730.8,692.5 732.1,693.1 733.3,693.8 734.5,694.3 735.6,695.1 736.8,695.8 738.1,696.4 739.3,697.0 740.3,698.0 741.7,698.4 742.9,699.2 744.0,699.9 745.2,700.7 746.5,701.3 747.5,702.1 748.7,702.7 749.8,703.5 751.1,704.0 752.2,704.8 753.4,705.2 754.6,705.9 755.8,706.4 757.0,706.9 758.1,707.7 759.2,708.4 760.2,709.3 761.3,710.0 762.4,710.8 763.6,711.4 764.5,712.5 765.7,713.1 766.9,713.7 767.9,714.5 769.0,715.4 770.0,716.2 770.9,717.2 772.1,717.8 773.3,718.5 774.1,719.6 775.2,720.3 776.5,720.9 777.6,721.7 778.6,722.5 779.6,723.5 780.6,724.4 781.7,725.1 783.0,725.6 784.3,726.1 785.4,726.9 786.6,727.5 787.7,728.2 789.0,728.7 790.0,729.7 791.1,730.5 792.3,731.1 793.6,731.4 794.7,732.3 796.0,732.8 797.0,733.8 798.3,734.3 799.3,735.2 800.6,735.8 801.9,736.1 803.1,736.9 803.9,738.0 805.2,738.5 806.2,739.3 807.3,740.1 808.3,741.0 809.3,741.9 810.5,742.5 811.4,743.5 812.6,744.1 813.8,744.7 814.5,745.9 815.7,746.6 816.8,747.4 817.4,748.7 818.8,749.2 819.6,750.3 820.6,751.2 821.4,752.3 822.6,752.9 823.6,753.8 824.6,754.7 825.6,755.6 826.5,756.6 827.6,757.4 828.5,758.4 829.8,759.0 830.8,760.0 831.9,760.8 832.7,762.0 833.8,762.7 834.9,763.6 836.0,764.3 837.2,765.1 838.4,765.9 839.2,767.1 840.4,767.8 841.6,768.5 842.6,769.5 843.7,770.3 844.5,771.5 845.5,772.5 846.9,773.1 847.7,774.2" stroke="#00bc00" stroke-width="3.46" stroke-linecap="square"/>
<path d="M71.1,480.0 540.0,480.0 800.0,480.5 828.0,480.6" stroke="#000080" stroke-width="6.23" stroke-dasharray="6.20 10.15" stroke-dashoffset="3.85"/>
<path d="M833.59,483.79L839.21,486.41M842.46,494.70L843.54,500.80M844.09,510.90L844.31,517.10M844.49,527.20L844.71,533.40M844.95,543.80L845.05,550.00" stroke="#000080" stroke-width="6.20"/>
<path d="M845.2,560.5L845.3,566.5L846.2,569.6" stroke="#000080" stroke-width="6.20"/>
</g>
<rect x="71.10" y="465.05" width="775.00" height="322.21" fill="none" stroke="#000" stroke-width="1.35"/>
<path d="M71.10,787.26v5.6M71.10,787.26h-5.6M225.40,787.26v5.6M71.10,725.89h-5.6M381.10,787.26v5.6M71.10,664.51h-5.6M536.50,787.26v5.6M71.10,603.14h-5.6M690.80,787.26v5.6M71.10,541.77h-5.6M846.10,787.26v5.6M71.10,480.39h-5.6" stroke="#000" stroke-width="1.2" fill="none"/>
<text transform="translate(70.50,812.56) scale(1.0000,1.0955)" font-size="20.4" text-anchor="middle">0.0</text>
<text transform="translate(58.50,794.99) scale(1.0000,1.0955)" font-size="20.4" text-anchor="end">0.0</text>
<text transform="translate(224.80,812.56) scale(1.0000,1.0955)" font-size="20.4" text-anchor="middle">0.2</text>
<text transform="translate(58.50,733.62) scale(1.0000,1.0955)" font-size="20.4" text-anchor="end">0.2</text>
<text transform="translate(380.50,812.56) scale(1.0000,1.0955)" font-size="20.4" text-anchor="middle">0.4</text>
<text transform="translate(58.50,672.24) scale(1.0000,1.0955)" font-size="20.4" text-anchor="end">0.4</text>
<text transform="translate(535.90,812.56) scale(1.0000,1.0955)" font-size="20.4" text-anchor="middle">0.6</text>
<text transform="translate(58.50,610.87) scale(1.0000,1.0955)" font-size="20.4" text-anchor="end">0.6</text>
<text transform="translate(690.20,812.56) scale(1.0000,1.0955)" font-size="20.4" text-anchor="middle">0.8</text>
<text transform="translate(58.50,549.50) scale(1.0000,1.0955)" font-size="20.4" text-anchor="end">0.8</text>
<text transform="translate(845.50,812.56) scale(1.0000,1.0955)" font-size="20.4" text-anchor="middle">1.0</text>
<text transform="translate(58.50,488.12) scale(1.0000,1.0955)" font-size="20.4" text-anchor="end">1.0</text>
<text transform="translate(458.10,840.68) scale(1.0000,1.0744)" font-size="24.25" text-anchor="middle">Recall</text>
<text transform="translate(19.80,627.15) rotate(-90) scale(1.0242,1.0400)" font-size="24.25" text-anchor="middle">Precision</text>
<text transform="translate(458.40,455.01) scale(1.0000,1.0693)" font-size="30.3" text-anchor="middle">Lemons</text>
<rect x="80.75" y="676.21" width="524.30" height="99.91" rx="3.60" fill="#fff" fill-opacity="0.8" stroke="#ccc" stroke-opacity="0.8" stroke-width="1.5"/>
<path d="M88.00,692.88H134.60" stroke="#000" stroke-width="3.11"/>
<path d="M88.00,723.85H134.60" stroke="#00bc00" stroke-width="3.41"/>
<path d="M89.20,754.93H134.60" stroke="#000080" stroke-width="6.23" stroke-dasharray="6.30 10.05"/>
<text transform="translate(150.00,700.31) scale(1.0000,1.0744)" font-size="21.62">Precision-recall curve of class 0 (area = 1.000)</text>
<text transform="translate(150.00,731.28) scale(1.0000,1.0744)" font-size="21.62">Precision-recall curve of class 1 (area = 0.718)</text>
<text transform="translate(150.00,762.36) scale(1.0000,1.0744)" font-size="21.62">micro-average Precision-recall curve (area = 0.999)</text>
</g>
<g id="plot3">
<clipPath id="c3"><rect x="959.20" y="465.05" width="777.60" height="322.21"/></clipPath>
<path d="M959.20,465.05V787.26M959.20,787.26H1736.80M1114.02,465.05V787.26M959.20,725.89H1736.80M1270.24,465.05V787.26M959.20,664.51H1736.80M1426.16,465.05V787.26M959.20,603.14H1736.80M1580.98,465.05V787.26M959.20,541.77H1736.80M1736.80,465.05V787.26M959.20,480.39H1736.80" stroke="#b0b0b0" stroke-width="1.1" fill="none"/>
<g clip-path="url(#c3)" fill="none" stroke-linejoin="round">
<path d="M959.2,480.3 1400.0,480.4 1690.0,480.6 1705.0,480.9 1717.8,481.4 1728.5,483.1 1733.0,484.6 1737.5,486.8" stroke="#000" stroke-width="2.91" stroke-linecap="square"/>
<path d="M958.6,787.3 958.6,785.9 958.6,784.6 958.6,783.3 958.6,781.9 958.6,780.6 958.6,779.3 958.6,777.9 958.7,776.6 958.7,775.3 958.7,774.0 958.7,772.6 958.7,771.3 958.7,770.0 958.7,768.6 958.7,767.3 958.7,766.0 958.7,764.6 958.7,763.3 958.7,762.0 958.7,760.6 958.8,759.3 958.8,758.0 958.8,756.7 958.8,755.3 958.8,754.0 958.8,752.7 958.8,751.3 958.8,750.0 958.8,748.7 958.9,747.4 958.9,746.1 958.9,744.8 958.9,743.5 959.0,742.2 959.0,740.9 959.0,739.6 959.0,738.3 959.1,737.0 959.1,735.7 959.1,734.3 959.1,733.0 959.2,731.7 959.2,730.4 959.2,729.1 959.2,727.8 959.3,726.5 959.3,725.2 959.3,723.9 959.3,722.6 959.4,721.3 959.4,720.0 959.5,718.7 959.5,717.3 959.6,716.0 959.6,714.7 959.7,713.3 959.7,712.0 959.8,710.7 959.8,709.3 959.9,708.0 959.9,706.7 960.0,705.3 960.0,704.0 960.1,702.7 960.1,701.3 960.2,700.0 960.6,698.7 959.8,697.3 960.1,696.0 960.2,694.6 959.6,693.2 962.0,692.0 959.6,690.5 960.6,689.2 961.5,688.0 960.7,686.6 962.3,685.3 960.5,683.8 962.4,682.6 962.3,681.2 961.8,679.8 962.5,678.4 961.4,677.0 962.5,675.7 962.5,674.3 961.8,672.9 961.8,671.5 962.5,670.2 961.8,668.8 961.0,667.4 962.9,666.2 961.8,664.7 962.5,663.4 963.4,662.2 962.0,660.7 961.8,659.3 962.2,658.0 963.5,656.8 963.1,655.4 963.0,654.0 963.6,652.7 965.0,651.5 963.4,650.1 964.0,648.8 965.3,647.7 964.8,646.3 964.1,644.9 964.8,643.7 965.0,642.4 964.2,641.0 965.0,639.7 965.0,638.4 966.4,637.3 965.5,635.8 966.5,634.7 967.4,633.6 967.6,632.3 967.0,630.8 967.7,629.6 967.5,628.2 968.1,627.0 968.7,625.8 969.6,624.8 970.3,623.7 969.7,622.0 969.6,620.6 970.8,619.7 970.6,618.2 970.9,617.0 972.6,616.1 971.9,614.4 973.3,613.5 973.1,612.0 974.5,611.0 974.7,609.7 973.8,608.0 974.4,606.8 976.1,605.9 976.0,604.3 976.1,602.9 977.2,601.8 977.7,600.4 977.6,598.9 978.0,597.6 977.8,596.0 978.8,594.8 979.1,593.3 980.5,592.4 981.0,591.0 980.9,589.3 982.2,588.3 982.3,586.5 983.2,585.2 984.9,584.4 985.5,582.9 987.0,582.3 987.3,580.9 988.2,579.9 988.2,578.3 990.0,577.9 990.9,576.6 992.5,577.3 994.0,577.6 995.5,577.4 997.0,576.1 997.5,574.4 999.0,573.6 1000.2,572.6 1001.2,571.5 1002.7,572.8 1004.1,572.7 1005.5,571.7 1007.0,572.2 1008.4,571.6 1009.8,571.3 1011.2,572.0 1012.6,571.2 1014.1,572.1 1015.3,572.7 1017.0,572.4 1018.2,573.6 1019.9,573.1 1021.0,574.4 1022.5,573.5 1024.1,574.0 1025.4,573.1 1027.0,573.4 1028.2,572.0 1029.8,572.5 1030.9,573.7 1032.3,573.8 1033.6,574.1 1035.1,573.8 1036.4,574.4 1037.7,574.9 1039.1,574.9 1040.4,575.8 1041.8,575.3 1043.2,575.3 1044.5,574.8 1045.9,574.2 1047.2,573.6 1048.7,574.2 1050.0,573.2 1051.4,573.5 1052.8,573.6 1054.1,573.8 1055.5,573.5 1056.8,573.7 1058.1,574.4 1059.5,574.0 1060.8,574.8 1062.2,574.5 1063.5,574.7 1064.9,574.7 1066.2,575.3 1067.6,575.2 1069.0,575.1 1070.4,575.2 1071.8,575.7 1073.1,576.2 1074.6,575.7 1075.9,575.2 1077.3,575.2 1078.7,574.9 1080.1,575.1 1081.5,575.2 1082.9,574.7 1084.2,574.0 1085.6,574.0 1087.0,573.9 1088.4,574.2 1089.7,574.5 1090.9,575.5 1092.3,575.2 1093.6,575.7 1095.0,576.0 1096.3,576.2 1097.6,576.7 1099.2,576.2 1100.7,576.5 1102.1,576.9 1103.6,575.9 1105.1,576.5 1106.6,576.2 1108.1,576.1 1109.5,576.3 1110.8,577.4 1112.4,576.9 1113.7,577.8 1115.1,577.4 1116.3,577.9 1117.7,577.8 1118.9,578.6 1120.1,579.1 1121.5,578.7 1122.7,579.4 1124.0,580.0 1125.4,579.5 1126.6,580.0 1127.9,580.5 1129.1,581.1 1130.6,580.8 1131.7,581.8 1133.2,581.7 1134.4,582.1 1135.4,583.5 1137.0,582.9 1138.0,584.2 1139.3,584.4 1140.6,584.6 1141.9,584.9 1143.1,585.2 1144.5,585.0 1145.7,585.5 1147.1,585.6 1148.1,586.8 1149.4,587.1 1150.7,587.4 1152.2,587.2 1153.3,588.0 1154.7,588.0 1155.9,589.0 1157.3,589.3 1158.6,590.0 1160.1,590.1 1161.5,590.4 1162.8,590.9 1164.4,590.6 1165.7,591.5 1167.2,591.3 1168.4,591.8 1169.7,591.7 1170.9,592.8 1172.3,591.9 1173.5,593.1 1174.8,593.3 1176.1,592.9 1177.4,593.5 1178.8,592.7 1180.1,593.0 1181.4,593.0 1182.8,593.5 1184.1,593.9 1185.0,595.3 1186.6,594.9 1187.6,595.9 1189.0,595.9 1190.4,596.2 1191.5,596.9 1192.9,597.1 1193.9,598.4 1195.3,598.1 1196.5,598.8 1197.8,599.1 1199.1,599.6 1200.2,600.2 1201.4,600.8 1202.6,601.5 1203.1,603.0 1204.7,603.1 1205.6,604.2 1206.3,605.4 1207.6,606.1 1208.4,607.4 1209.5,608.1 1211.0,608.4 1212.4,608.6 1213.3,609.7 1214.5,610.2 1215.5,611.2 1216.9,611.4 1218.0,612.3 1219.1,613.1 1220.5,613.4 1221.4,614.5 1222.6,615.2 1224.2,615.1 1225.0,616.6 1226.2,617.2 1227.4,617.8 1228.9,617.9 1230.1,618.5 1231.4,619.0 1230.0,619.3 1231.2,620.1 1232.7,620.1 1234.2,620.3 1235.4,621.2 1236.9,621.5 1238.0,622.6 1239.2,623.3 1240.5,624.1 1242.1,623.3 1243.4,623.8 1244.7,623.7 1245.9,624.9 1247.3,625.0 1248.7,624.8 1249.9,625.5 1251.3,625.2 1252.6,625.7 1254.0,625.5 1255.4,625.6 1256.6,626.5 1258.1,626.5 1259.5,626.3 1260.9,626.8 1262.4,626.6 1263.8,627.0 1265.3,626.2 1266.7,626.4 1268.1,626.5 1269.5,627.3 1270.8,627.6 1272.2,627.1 1273.5,627.7 1274.9,627.4 1276.2,628.3 1277.5,628.6 1278.9,627.9 1280.2,628.9 1281.5,628.9 1282.9,628.7 1284.3,629.0 1285.6,629.1 1286.9,629.6 1288.2,629.9 1289.6,629.6 1291.0,629.8 1292.3,630.3 1293.6,630.5 1294.9,630.5 1296.3,630.4 1297.6,630.3 1298.9,630.7 1300.3,630.7 1301.6,631.0 1303.0,630.9 1304.3,631.1 1305.6,631.4 1307.0,631.2 1308.3,631.5 1309.6,631.2 1311.0,631.1 1312.3,631.8 1313.7,631.3 1314.9,632.0 1316.3,631.7 1317.7,631.6 1319.0,631.8 1320.3,632.1 1321.6,631.9 1323.0,632.0 1324.3,631.7 1325.6,632.2 1327.0,631.9 1328.3,632.2 1329.6,631.7 1331.0,632.1 1332.3,631.9 1333.6,631.9 1335.0,631.6 1336.3,632.0 1337.7,632.2 1339.0,631.7 1340.3,631.9 1341.7,631.7 1343.0,632.5 1344.4,632.6 1345.8,632.5 1347.2,632.5 1348.6,632.3 1349.9,632.5 1351.3,633.0 1352.6,633.1 1354.0,633.4 1355.4,633.4 1356.7,633.2 1358.1,633.2 1359.5,633.6 1360.9,633.6 1362.2,633.9 1363.6,634.3 1365.0,634.2 1366.3,634.7 1367.7,634.7 1369.1,634.4 1370.4,635.0 1371.8,635.1 1373.2,635.3 1374.6,635.0 1375.9,635.8 1377.3,635.6 1378.8,635.8 1380.2,635.6 1381.6,635.6 1383.1,635.7 1384.5,636.0 1385.9,636.1 1387.3,636.1 1388.7,636.2 1390.1,636.7 1391.5,636.8 1392.9,636.9 1394.3,636.5 1395.7,636.9 1397.1,636.8 1398.5,636.5 1399.8,637.1 1401.2,636.8 1402.6,636.7 1404.0,636.9 1405.2,637.7 1406.6,637.4 1407.9,637.7 1409.3,637.9 1410.7,637.8 1412.0,638.1 1413.4,637.7 1414.8,638.0 1416.1,638.1 1417.5,638.2 1418.9,638.2 1420.3,638.0 1421.6,638.3 1423.0,638.6 1424.4,638.3 1425.7,638.5 1427.1,638.8 1428.5,638.6 1429.9,638.8 1431.2,639.5 1432.6,639.3 1433.9,639.5 1435.3,639.7 1436.6,640.3 1438.0,640.2 1439.4,640.7 1440.8,640.4 1442.2,640.7 1443.5,641.1 1444.9,641.1 1446.2,641.6 1447.5,641.7 1448.9,641.6 1450.2,641.9 1451.5,642.3 1452.9,642.6 1454.2,642.6 1455.6,643.1 1457.0,643.3 1458.2,643.9 1459.6,644.3 1460.9,644.7 1462.2,645.3 1463.5,645.9 1464.8,646.2 1466.2,646.6 1467.6,646.7 1468.9,647.2 1470.2,647.8 1471.4,648.2 1472.8,648.0 1474.1,648.1 1475.4,648.4 1476.6,649.0 1477.8,649.5 1479.2,649.3 1480.3,650.0 1481.6,650.2 1482.9,650.7 1484.1,651.0 1485.5,650.7 1486.7,651.5 1488.1,651.3 1489.4,651.5 1490.7,651.9 1492.0,652.1 1493.4,652.0 1494.7,652.4 1496.0,652.5 1497.4,652.6 1498.7,652.8 1500.0,653.0 1501.4,653.5 1502.7,654.0 1504.1,654.5 1505.4,655.0 1506.8,655.4 1508.1,655.7 1509.5,656.0 1510.8,656.7 1512.2,657.0 1513.6,657.5 1514.9,657.9 1516.1,658.8 1517.6,659.0 1518.9,659.5 1520.2,660.1 1521.4,660.8 1522.7,661.4 1524.1,661.6 1525.5,661.9 1527.0,661.9 1528.2,662.6 1529.6,662.8 1531.1,662.9 1532.5,663.1 1533.8,663.5 1535.3,663.5 1536.6,664.1 1537.9,664.6 1539.3,664.5 1540.7,664.8 1542.1,664.9 1543.3,665.7 1544.8,665.6 1546.1,665.8 1547.4,666.3 1548.9,666.3 1550.3,667.0 1551.7,666.8 1553.1,667.2 1554.6,667.2 1556.0,667.7 1557.4,667.8 1558.9,667.8 1560.0,668.9 1561.5,668.9 1562.6,669.7 1563.9,670.2 1565.2,670.6 1566.5,671.0 1567.7,671.6 1568.8,672.5 1570.4,672.3 1571.5,673.3 1573.0,673.6 1574.4,673.9 1575.7,674.5 1577.1,674.9 1578.4,675.4 1579.8,676.0 1581.2,676.1 1582.6,676.5 1583.9,677.0 1585.1,677.9 1586.5,678.2 1587.9,678.4 1589.1,679.3 1590.5,679.5 1591.7,680.2 1593.0,680.9 1594.3,681.2 1595.5,681.6 1596.7,682.1 1598.1,682.3 1599.3,682.9 1600.5,683.2 1601.9,683.2 1603.1,683.9 1604.4,683.9 1605.5,685.0 1606.9,685.4 1608.2,685.9 1609.6,686.4 1610.6,687.4 1612.0,687.7 1613.4,688.2 1614.4,689.3 1615.9,689.4 1617.1,689.9 1618.3,690.4 1619.4,691.3 1620.6,691.7 1621.8,692.1 1622.9,692.9 1624.3,693.1 1625.5,693.4 1626.5,694.4 1628.0,694.3 1629.2,694.8 1630.3,695.5 1631.2,696.7 1632.5,697.0 1633.7,697.6 1634.8,698.3 1636.0,699.0 1637.0,699.9 1638.1,700.4 1639.4,700.9 1640.6,701.5 1641.7,702.4 1643.2,702.8 1644.5,703.3 1646.0,703.7 1647.1,704.7 1648.6,705.0 1649.9,705.8 1651.2,706.4 1652.4,707.2 1653.9,707.6 1654.9,708.9 1656.2,709.7 1657.7,710.0 1659.0,710.7 1660.0,711.7 1661.3,712.4 1662.7,712.8 1663.7,714.0 1665.3,714.2 1666.4,715.2 1667.7,715.9 1669.0,716.5 1670.2,717.4 1671.5,718.0 1672.6,718.9 1673.6,719.9 1674.9,720.4 1675.7,721.5 1676.5,722.6 1677.6,723.4 1678.4,724.5 1679.6,725.2 1680.5,726.2 1681.4,727.3 1682.6,728.1 1683.6,729.1 1684.6,730.1 1685.6,731.2 1686.6,732.1 1687.7,733.1 1688.8,734.0 1689.9,734.9 1690.7,736.1 1691.8,737.0 1692.9,738.0 1694.0,738.9 1695.2,739.7 1696.5,740.4 1697.3,741.7 1698.5,742.5 1699.4,743.6 1700.3,744.6 1701.5,745.5 1702.2,746.7 1703.3,747.7 1704.2,748.7 1705.0,749.9 1705.8,751.1 1706.8,752.1 1707.8,753.1 1708.3,754.4 1709.2,755.4 1710.0,756.5 1710.8,757.7 1711.6,758.7 1712.4,759.8 1712.7,761.3 1713.7,762.3 1714.4,763.4 1715.3,764.5 1716.1,765.6 1716.9,766.7 1718.0,767.5 1718.8,768.6 1719.4,769.9 1720.2,771.0 1721.5,771.5 1722.5,772.3 1723.5,773.1 1724.3,774.3 1725.5,775.0 1726.9,775.3 1727.8,776.2 1729.0,776.8 1730.2,777.3 1731.3,778.0 1732.3,779.0 1733.5,779.6 1734.8,779.8 1735.8,780.8 1737.2,781.0 1738.2,781.9" stroke="#00bc00" stroke-width="3.46" stroke-linecap="square"/>
<path d="M959.2,480.3 1400.0,480.4 1670.0,480.7 1690.0,481.0 1705.0,481.6 1711.0,482.2" stroke="#000080" stroke-width="6.23" stroke-dasharray="6.20 10.20" stroke-dashoffset="11.90"/>
<path d="M1717.59,483.69L1723.21,486.31M1731.52,490.76L1735.08,495.84M1735.35,506.60L1735.45,512.80M1735.50,522.70L1735.50,528.90M1735.60,539.50L1735.60,545.70M1735.70,556.00L1735.70,562.20M1735.80,572.10L1735.80,578.30M1735.90,588.90L1735.90,595.10M1736.00,605.40L1736.00,611.60" stroke="#000080" stroke-width="6.22"/>
<path d="M1736.0,621.2L1736.1,628L1736.9,631.2" stroke="#000080" stroke-width="6.22"/>
</g>
<rect x="959.20" y="465.05" width="777.60" height="322.21" fill="none" stroke="#000" stroke-width="1.35"/>
<path d="M959.20,787.26v5.6M959.20,787.26h-5.6M1114.02,787.26v5.6M959.20,725.89h-5.6M1270.24,787.26v5.6M959.20,664.51h-5.6M1426.16,787.26v5.6M959.20,603.14h-5.6M1580.98,787.26v5.6M959.20,541.77h-5.6M1736.80,787.26v5.6M959.20,480.39h-5.6" stroke="#000" stroke-width="1.2" fill="none"/>
<text transform="translate(958.60,812.56) scale(1.0034,1.0955)" font-size="20.4" text-anchor="middle">0.0</text>
<text transform="translate(946.56,794.99) scale(1.0034,1.0955)" font-size="20.4" text-anchor="end">0.0</text>
<text transform="translate(1113.42,812.56) scale(1.0034,1.0955)" font-size="20.4" text-anchor="middle">0.2</text>
<text transform="translate(946.56,733.62) scale(1.0034,1.0955)" font-size="20.4" text-anchor="end">0.2</text>
<text transform="translate(1269.64,812.56) scale(1.0034,1.0955)" font-size="20.4" text-anchor="middle">0.4</text>
<text transform="translate(946.56,672.24) scale(1.0034,1.0955)" font-size="20.4" text-anchor="end">0.4</text>
<text transform="translate(1425.56,812.56) scale(1.0034,1.0955)" font-size="20.4" text-anchor="middle">0.6</text>
<text transform="translate(946.56,610.87) scale(1.0034,1.0955)" font-size="20.4" text-anchor="end">0.6</text>
<text transform="translate(1580.38,812.56) scale(1.0034,1.0955)" font-size="20.4" text-anchor="middle">0.8</text>
<text transform="translate(946.56,549.50) scale(1.0034,1.0955)" font-size="20.4" text-anchor="end">0.8</text>
<text transform="translate(1736.20,812.56) scale(1.0034,1.0955)" font-size="20.4" text-anchor="middle">1.0</text>
<text transform="translate(946.56,488.12) scale(1.0034,1.0955)" font-size="20.4" text-anchor="end">1.0</text>
<text transform="translate(1347.50,840.68) scale(1.0034,1.0744)" font-size="24.25" text-anchor="middle">Recall</text>
<text transform="translate(907.73,627.15) rotate(-90) scale(1.0242,1.0435)" font-size="24.25" text-anchor="middle">Precision</text>
<text transform="translate(1347.80,455.01) scale(1.0194,1.0693)" font-size="30.3" text-anchor="middle">Lemon + Plastic Bag</text>
<rect x="968.88" y="676.21" width="526.06" height="99.91" rx="3.61" fill="#fff" fill-opacity="0.8" stroke="#ccc" stroke-opacity="0.8" stroke-width="1.5"/>
<path d="M976.16,692.88H1022.91" stroke="#000" stroke-width="3.11"/>
<path d="M976.16,723.85H1022.91" stroke="#00bc00" stroke-width="3.41"/>
<path d="M977.36,754.93H1022.91" stroke="#000080" stroke-width="6.23" stroke-dasharray="6.32 10.08"/>
<text transform="translate(1038.36,700.31) scale(1.0034,1.0744)" font-size="21.62">Precision-recall curve of class 0 (area = 0.999)</text>
<text transform="translate(1038.36,731.28) scale(1.0034,1.0744)" font-size="21.62">Precision-recall curve of class 1 (area = 0.483)</text>
<text transform="translate(1038.36,762.36) scale(1.0034,1.0744)" font-size="21.62">micro-average Precision-recall curve (area = 0.998)</text>
</g>
</svg>
</body></html>
